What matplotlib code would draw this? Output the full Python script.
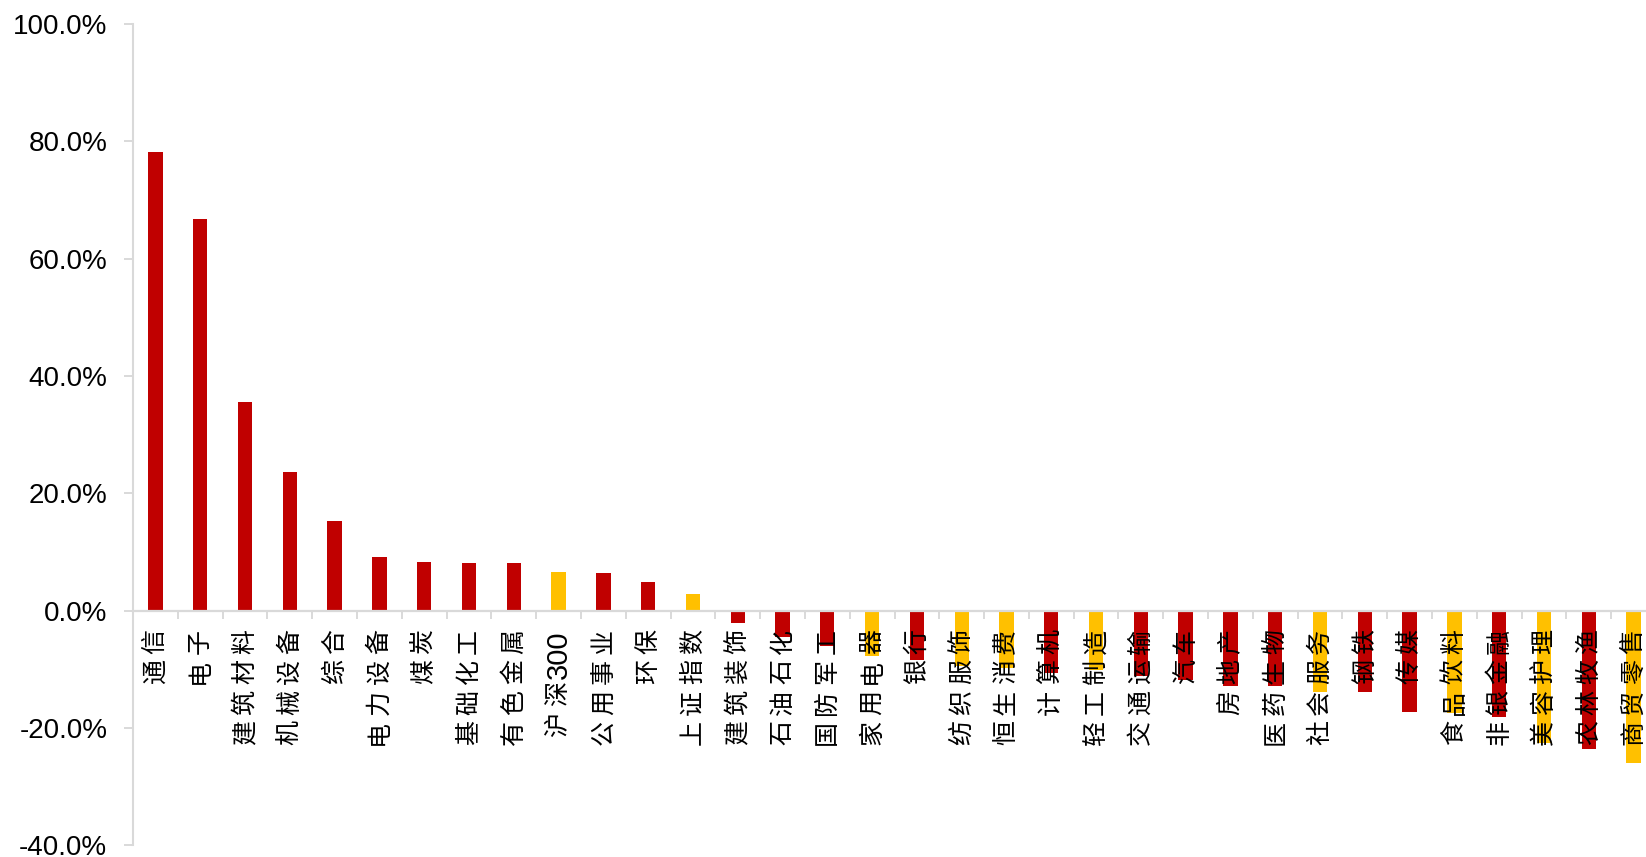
import matplotlib
matplotlib.use("Agg")
import matplotlib.pyplot as plt
import matplotlib.transforms as mtransforms
import numpy as np

categories = ["通信", "电子", "建筑材料", "机械设备", "综合", "电力设备", "煤炭", "基础化工",
              "有色金属", "沪深300", "公用事业", "环保", "上证指数", "建筑装饰", "石油石化",
              "国防军工", "家用电器", "银行", "纺织服饰", "恒生消费", "计算机", "轻工制造",
              "交通运输", "汽车", "房地产", "医药生物", "社会服务", "钢铁", "传媒", "食品饮料",
              "非银金融", "美容护理", "农林牧渔", "商贸零售"]
values = [78.1, 66.7, 35.6, 23.7, 15.2, 9.1, 8.3, 8.2,
          8.1, 6.6, 6.4, 4.9, 2.9, -2.1, -4.5,
          -6.0, -7.8, -8.4, -9.5, -9.8, -10.7, -10.2,
          -11.2, -11.9, -12.9, -12.9, -13.8, -13.8, -17.2, -17.4,
          -18.1, -22.5, -23.6, -26.0]
highlight = ["沪深300", "上证指数", "家用电器", "纺织服饰", "恒生消费", "轻工制造",
             "社会服务", "食品饮料", "美容护理", "商贸零售"]
y_ticks = [-40, -20, 0, 20, 40, 60, 80, 100]
y_tick_labels = ["-40.0%", "-20.0%", "0.0%", "20.0%", "40.0%", "60.0%", "80.0%", "100.0%"]

RED = "#C00000"
YELLOW = "#FFC000"
GRAY = "#D9D9D9"

W, H = 1646, 857
fig = plt.figure(figsize=(W / 100, H / 100), dpi=100)
ax = fig.add_axes([133 / W, 1 - 845.3 / H, 1523 / W, (845.3 - 24) / H])

n = len(categories)
x = np.arange(n)
colors = [YELLOW if c in highlight else RED for c in categories]
ax.bar(x, values, width=0.32, color=colors, zorder=2)

ax.set_xlim(-0.5, n - 0.5)
ax.set_ylim(-40, 100)
ax.set_yticks(y_ticks)
ax.set_yticklabels(y_tick_labels, fontfamily="Liberation Sans", fontsize=20, color="black")
ax.tick_params(axis="y", direction="out", length=6.5, width=1.4, color=GRAY, pad=12)

ax.set_xticks(np.arange(-0.5, n, 1))
ax.set_xticklabels([])
ax.tick_params(axis="x", direction="out", length=5.8, width=1.4, color=GRAY)

for s in ["top", "right"]:
    ax.spines[s].set_visible(False)
ax.spines["left"].set_color(GRAY)
ax.spines["left"].set_linewidth(1.5)
ax.spines["bottom"].set_position(("data", 0))
ax.spines["bottom"].set_color(GRAY)
ax.spines["bottom"].set_linewidth(1.6)
ax.spines["bottom"].set_zorder(3)

# category labels: rotated 90 deg, stacked from just below the zero line
renderer = fig.canvas.get_renderer()
TOP_GAP = 19.0     # px from zero line to label top
CJK_ADV = 30.5     # px per CJK character
CJK_INK = 23.0

def tokens(label):
    out, buf = [], ""
    for ch in label:
        if ord(ch) < 128:
            buf += ch
        else:
            if buf:
                out.append(buf)
                buf = ""
            out.append(ch)
    if buf:
        out.append(buf)
    return out

for i, lab in enumerate(categories):
    cursor = TOP_GAP
    for tok in reversed(tokens(lab)):
        if ord(tok[0]) < 128:
            tr = mtransforms.offset_copy(ax.transData, fig=fig, x=0, y=-(cursor + 1), units="dots")
            t = ax.text(i, 0, tok, rotation=90, ha="center", va="top", transform=tr,
                        fontfamily="Liberation Sans", fontsize=21, color="black", zorder=5)
            bb = t.get_window_extent(renderer)
            cursor += bb.height + 4
        else:
            tr = mtransforms.offset_copy(ax.transData, fig=fig, x=0, y=-(cursor + CJK_INK / 2), units="dots")
            ax.text(i, 0, tok, rotation=90, ha="center", va="center", transform=tr,
                    fontfamily="Noto Sans CJK SC", fontsize=18, color="black", zorder=5)
            cursor += CJK_ADV

fig.savefig("out.png", dpi=100, facecolor="white")
